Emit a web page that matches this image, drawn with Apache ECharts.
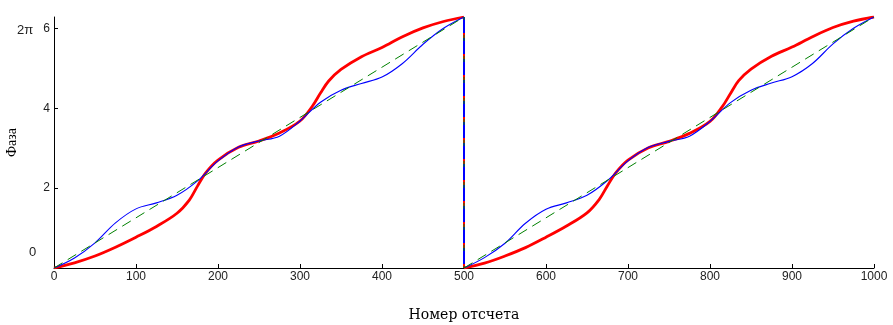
<!DOCTYPE html>
<html>
<head>
<meta charset="utf-8">
<script src="https://cdn.jsdelivr.net/npm/echarts@6/dist/echarts.min.js"></script>
<style>html,body{margin:0;padding:0;background:#fff}#c{width:893px;height:325px}</style>
</head>
<body>
<div id="c"></div>
<script>
// ---- data ----
const TWO_PI = 6.283;
const xTicks = [0, 100, 200, 300, 400, 500, 600, 700, 800, 900, 1000];
const yTicks = [0, 2, 4, 6];
const yLabels = [2, 4, 6];

const redX1 = [0, 25, 50, 75, 100, 125, 150, 165, 175, 185, 200, 225, 250, 275, 300, 315, 325, 335, 350, 375, 400, 425, 450, 475, 500];
const redY1 = [0, 0.13, 0.30, 0.52, 0.77, 1.04, 1.37, 1.70, 2.05, 2.38, 2.70, 3.02, 3.18, 3.38, 3.68, 4.05, 4.38, 4.68, 4.97, 5.29, 5.52, 5.79, 6.01, 6.17, 6.283];
const redX2 = [500, 525, 550, 575, 600, 625, 650, 665, 675, 685, 700, 725, 750, 775, 800, 815, 825, 835, 850, 875, 900, 925, 950, 975, 1000];
const redY2 = [0, 0.12, 0.30, 0.51, 0.77, 1.05, 1.38, 1.72, 2.06, 2.38, 2.70, 3.01, 3.17, 3.37, 3.67, 4.04, 4.37, 4.69, 4.98, 5.30, 5.53, 5.79, 6.02, 6.18, 6.283];

const blueX1 = [0, 25, 50, 75, 100, 125, 150, 175, 200, 225, 250, 275, 300, 325, 350, 375, 400, 425, 450, 475, 500];
const blueY1 = [0, 0.25, 0.63, 1.13, 1.48, 1.63, 1.82, 2.18, 2.68, 3.03, 3.18, 3.30, 3.68, 4.15, 4.45, 4.62, 4.78, 5.12, 5.60, 6.00, 6.283];
const blueX2 = [500, 525, 550, 575, 600, 625, 650, 675, 700, 725, 750, 775, 800, 825, 850, 875, 900, 925, 950, 975, 1000];
const blueY2 = [0, 0.26, 0.62, 1.12, 1.47, 1.63, 1.82, 2.19, 2.68, 3.02, 3.17, 3.30, 3.67, 4.14, 4.45, 4.63, 4.79, 5.12, 5.61, 6.00, 6.283];

const greenX1 = [0, 500];
const greenY1 = [0, 6.283];
const greenX2 = [500, 1000];
const greenY2 = [0, 6.283];

const dropX = [500, 500];
const dropY = [6.283, 0];

const xName = 'Номер отсчета';
const yName = 'Фаза';

// ---- chart ----
const zip = (xs, ys) => xs.map((x, i) => [x, ys[i]]);
const chart = echarts.init(document.getElementById('c'), null, {renderer: 'canvas'});

const red = {color: '#ff0000', width: 2.8};
const blue = {color: '#0000ff', width: 1.1};
const green = {color: '#008000', width: 1, type: [10, 6]};

function line(data, st, smooth, z) {
  return {
    type: 'line', data: data, showSymbol: false, symbol: 'none',
    smooth: smooth, z: z, silent: true, animation: false,
    lineStyle: Object.assign({}, st)
  };
}

chart.setOption({
  animation: false,
  grid: {left: 54, right: 19, top: 17, bottom: 57, outerBoundsMode: 'none', containLabel: false},
  xAxis: {
    type: 'value', min: 0, max: 1000, interval: 100,
    axisLine: {show: true, onZero: false, lineStyle: {color: '#000', width: 1}},
    axisTick: {show: true, inside: true, length: 4, lineStyle: {color: '#000'}},
    axisLabel: {margin: 3, fontSize: 12, color: '#222', fontFamily: 'Liberation Sans, Arial, sans-serif',
      formatter: v => String(v)},
    splitLine: {show: false},
    name: xName, nameLocation: 'middle', nameGap: 40,
    nameTextStyle: {fontFamily: 'DejaVu Serif, serif', fontSize: 14, color: '#000'}
  },
  yAxis: {
    type: 'value', min: 0, max: TWO_PI,
    axisLine: {show: true, onZero: false, lineStyle: {color: '#000', width: 1}},
    axisTick: {show: true, inside: true, length: 4, lineStyle: {color: '#000'}, customValues: yTicks},
    axisLabel: {margin: 4, fontSize: 12, color: '#222', fontFamily: 'Liberation Sans, Arial, sans-serif', customValues: yLabels},
    splitLine: {show: false},
    name: yName, nameLocation: 'middle', nameGap: 35, nameRotate: 90,
    nameTextStyle: {fontFamily: 'Liberation Serif, Times New Roman, serif', fontSize: 14, color: '#000'}
  },
  graphic: [
    {type: 'text', left: 17, top: 24, style: {text: '2π', fontSize: 13, fill: '#222', fontFamily: 'Liberation Sans, Arial, sans-serif'}},
    {type: 'text', left: 29, top: 246, style: {text: '0', fontSize: 13, fill: '#222', fontFamily: 'Liberation Sans, Arial, sans-serif'}}
  ],
  series: [
    line(zip(redX1, redY1), red, 0.35, 2),
    line(zip(redX2, redY2), red, 0.35, 2),
    line(zip(dropX, dropY), {color: '#ff0000', width: 2}, false, 2),
    line(zip(blueX1, blueY1), blue, 0.35, 3),
    line(zip(blueX2, blueY2), blue, 0.35, 3),
    line(zip(dropX, dropY), {color: '#0000ff', width: 2, type: [16, 5]}, false, 3),
    line(zip(greenX1, greenY1), green, false, 4),
    line(zip(greenX2, greenY2), green, false, 4),
    line(zip(dropX, dropY), {color: '#008000', width: 1, type: [6, 15], dashOffset: 3}, false, 4)
  ]
});
</script>
</body>
</html>
